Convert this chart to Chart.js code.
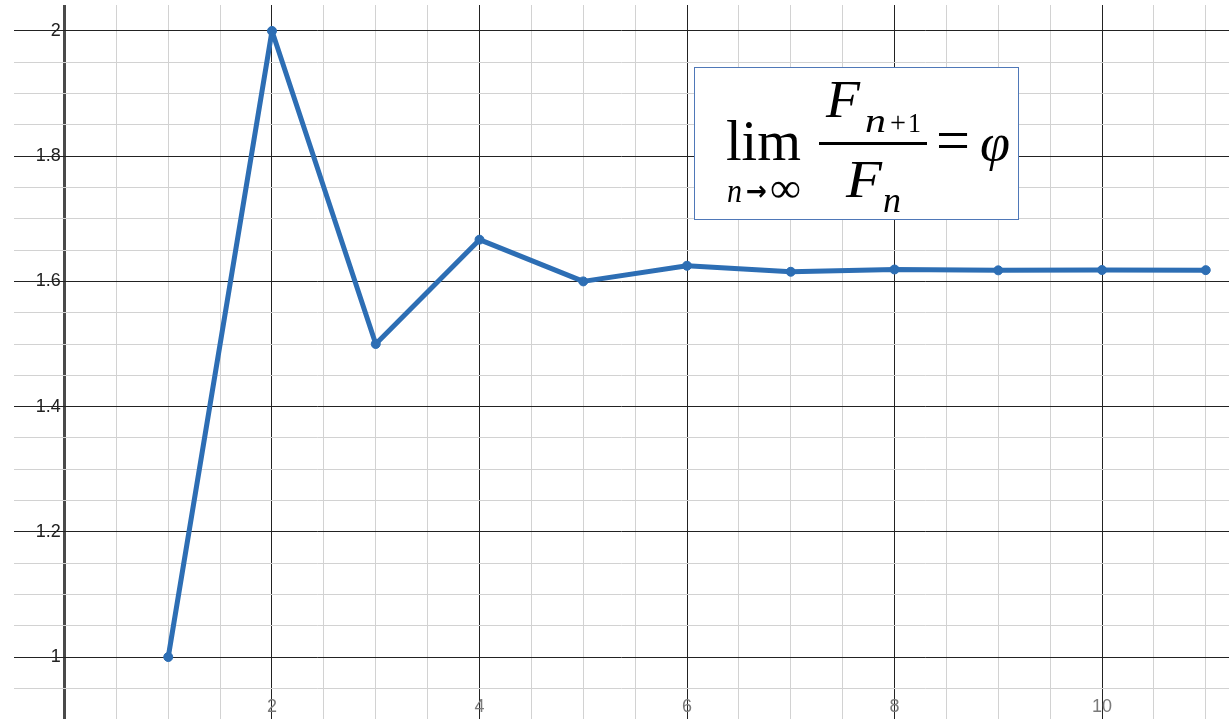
<!DOCTYPE html>
<html>
<head>
<meta charset="utf-8">
<script src="https://cdn.jsdelivr.net/npm/chart.js@4/dist/chart.umd.min.js"></script>
<style>
	body { margin: 0; background: #fff; }
	#wrap { position: relative; width: 1229px; height: 719px; }
	#myChart { display: block; }
	#formula { position: absolute; left: 694px; top: 67px; }
	#formula text { font-family: "Liberation Serif", "Times New Roman", serif; fill: #000; }
	#formula text.arrow { font-family: "DejaVu Sans", sans-serif; }
</style>
</head>
<body>
<div id="wrap">
	<canvas id="myChart" width="1229" height="719"></canvas>
	<svg id="formula" width="326" height="154">
		<rect x="0.5" y="0.5" width="324" height="152" fill="#fff" stroke="#4f78b8" stroke-width="1"/>
		<text x="32" y="93" font-size="57" textLength="75" lengthAdjust="spacingAndGlyphs">lim</text>
		<text x="33" y="135" font-size="34" font-style="italic" textLength="15" lengthAdjust="spacingAndGlyphs">n</text>
		<text class="arrow" x="52" y="133" font-size="27" font-weight="bold" textLength="21" lengthAdjust="spacingAndGlyphs">→</text>
		<text x="76" y="135" font-size="42" textLength="31" lengthAdjust="spacingAndGlyphs">∞</text>
		<rect x="125" y="75" width="108" height="3" fill="#000"/>
		<text x="132" y="50" font-size="52" font-style="italic" textLength="34" lengthAdjust="spacingAndGlyphs">F</text>
		<text x="171" y="65" font-size="34" font-style="italic" textLength="21" lengthAdjust="spacingAndGlyphs">n</text>
		<text x="196" y="65" font-size="30" textLength="16" lengthAdjust="spacingAndGlyphs">+</text>
		<text x="214" y="65" font-size="27" textLength="13" lengthAdjust="spacingAndGlyphs">1</text>
		<text x="152" y="130" font-size="52" font-style="italic" textLength="36" lengthAdjust="spacingAndGlyphs">F</text>
		<text x="189" y="145" font-size="36" font-style="italic">n</text>
		<text x="242" y="93" font-size="60" textLength="34" lengthAdjust="spacingAndGlyphs">=</text>
		<text x="286" y="93" font-size="52" font-style="italic" textLength="30" lengthAdjust="spacingAndGlyphs">φ</text>
	</svg>
</div>
<script>
// n and the ratio F(n+1)/F(n)
var nValues = [1, 2, 3, 4, 5, 6, 7, 8, 9, 10, 11];
var ratioValues = [1, 2, 1.5, 1.666667, 1.6, 1.625, 1.615385, 1.619048, 1.617647, 1.618182, 1.617978];

// visible window of the graph
var xMin = -0.4867, xMax = 11.224;
var yMin = 0.901, yMax = 2.0415;

// grid steps: minor / labelled major
var xMinorStep = 0.5, xMajorStep = 2;
var yMinorStep = 0.05, yMajorStep = 0.2;

function isMultiple(v, step) {
	var q = v / step;
	return Math.abs(q - Math.round(q)) < 1e-6;
}

var points = [];
for (var i = 0; i < nValues.length; i++) {
	points.push({ x: nValues[i], y: ratioValues[i] });
}

var noPad = function(scale) {
	scale.paddingLeft = 0;
	scale.paddingRight = 0;
	scale.paddingTop = 0;
	scale.paddingBottom = 0;
};

var ctx = document.getElementById("myChart");

var myChart = new Chart(ctx, {
	type: "scatter",
	data: {
		datasets: [
			{
				data: points,
				showLine: true,
				borderColor: "#2d6eb4",
				backgroundColor: "#2d6eb4",
				borderWidth: 5,
				borderJoinStyle: "round",
				borderCapStyle: "round",
				pointRadius: 4.5,
				pointBorderWidth: 1,
				pointHoverRadius: 4.5
			}
		]
	},
	options: {
		responsive: false,
		animation: false,
		layout: { autoPadding: false, padding: { left: 14, top: 5, right: 0, bottom: 0 } },
		plugins: {
			legend: { display: false },
			tooltip: { enabled: false }
		},
		scales: {
			x: {
				type: "linear",
				axis: "x",
				position: { y: 0.9425 },
				min: xMin,
				max: xMax,
				afterFit: noPad,
				border: { display: false },
				grid: {
					drawTicks: false,
					color: function(c) {
						var v = c.tick.value;
						if (Math.abs(v) < 1e-6) return "#4a4a4a";
						if (isMultiple(v, xMajorStep)) return "#222";
						return "#d2d2d2";
					},
					lineWidth: function(c) {
						return Math.abs(c.tick.value) < 1e-6 ? 3 : 1;
					}
				},
				ticks: {
					stepSize: xMinorStep,
					includeBounds: false,
					autoSkip: false,
					maxRotation: 0,
					maxTicksLimit: 1000,
					color: "#7a7a7a",
					font: { family: "'Liberation Sans', Arial, sans-serif", size: 18 },
					callback: function(v) {
						if (Math.abs(v) < 1e-6 || !isMultiple(v, xMajorStep)) return "";
						return String(Math.round(v));
					}
				}
			},
			y: {
				type: "linear",
				axis: "y",
				position: { x: -0.035 },
				min: yMin,
				max: yMax,
				afterFit: noPad,
				border: { display: false },
				grid: {
					drawTicks: false,
					color: function(c) {
						return isMultiple(c.tick.value, yMajorStep) ? "#222" : "#d2d2d2";
					}
				},
				ticks: {
					stepSize: yMinorStep,
					includeBounds: false,
					autoSkip: false,
					maxTicksLimit: 1000,
					color: "#222",
					font: { family: "'Liberation Sans', Arial, sans-serif", size: 18 },
					callback: function(v) {
						if (!isMultiple(v, yMajorStep)) return "";
						return String(Math.round(v * 10) / 10);
					}
				}
			}
		}
	}
});
</script>
</body>
</html>
